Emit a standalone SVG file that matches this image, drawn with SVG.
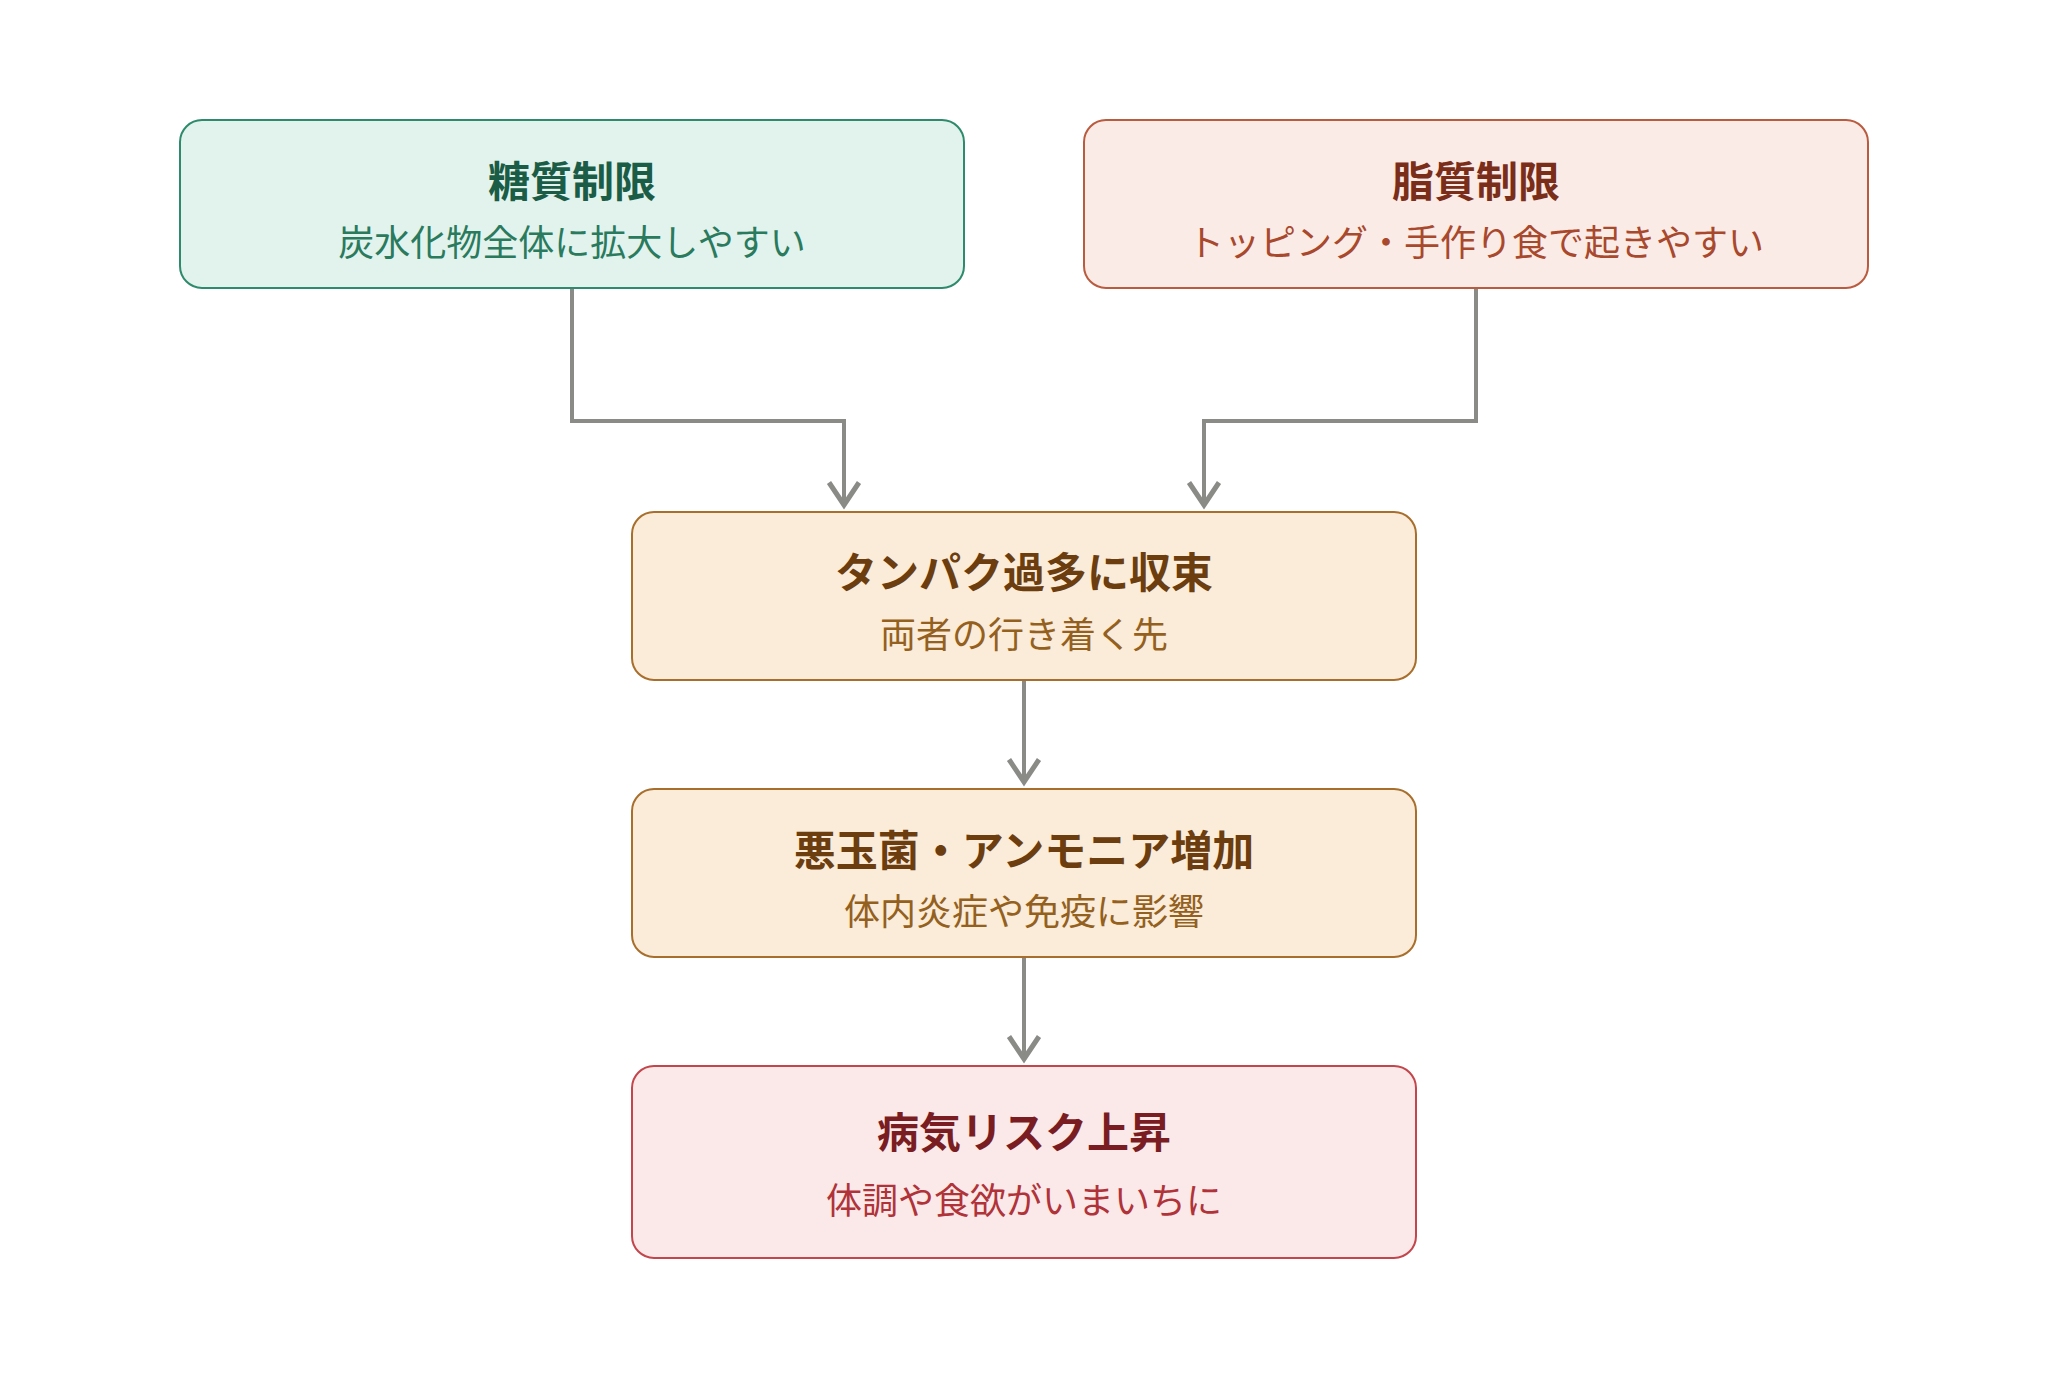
<svg xmlns="http://www.w3.org/2000/svg" width="2048" height="1385" viewBox="0 0 2048 1385">
  <style>
    .box { stroke-width: 2; }
    .title { font-family: "Noto Sans CJK JP", "Noto Sans", sans-serif; font-size: 42px; font-weight: 700; text-anchor: middle; }
    .sub { font-family: "Noto Sans CJK JP", "Noto Sans", sans-serif; font-size: 36px; font-weight: 400; text-anchor: middle; }
    .conn { fill: none; stroke: #8a8a86; stroke-width: 4; }
    .green rect { fill: #e1f3ec; stroke: #2e8a6c; }
    .green .title { fill: #1b5c46; }
    .green .sub { fill: #2a7a5e; }
    .rust rect { fill: #fbebe6; stroke: #b95b3f; }
    .rust .title { fill: #7a2d18; }
    .rust .sub { fill: #a8482c; }
    .amber rect { fill: #faecd9; stroke: #a86e2c; }
    .amber .title { fill: #6b3d0f; }
    .amber .sub { fill: #946020; }
    .red rect { fill: #fbe9e9; stroke: #c2464c; }
    .red .title { fill: #7a1d22; }
    .red .sub { fill: #b0333a; }
  </style>
  <defs>
    <marker id="chev" markerUnits="userSpaceOnUse" markerWidth="40" markerHeight="40" viewBox="-22 -16 26 32" refX="0" refY="0" orient="auto" overflow="visible">
      <path d="M-18,-12 L0,0 L-18,12" fill="none" stroke="#8a8a86" stroke-width="4" stroke-linejoin="miter"/>
    </marker>
  </defs>
  <rect width="2048" height="1385" fill="#ffffff"/>

  <g id="connectors">
    <path class="conn" d="M572 289 V421 H844 V505" marker-end="url(#chev)"/>
    <path class="conn" d="M1476 289 V421 H1204 V505" marker-end="url(#chev)"/>
    <path class="conn" d="M1024 680 V782" marker-end="url(#chev)"/>
    <path class="conn" d="M1024 957 V1059" marker-end="url(#chev)"/>
  </g>

  <g id="node-carb" class="green">
    <rect class="box" x="180" y="120" width="784" height="168" rx="22"/>
    <text class="title" x="572" y="197">糖質制限</text>
    <text class="sub" x="572" y="256">炭水化物全体に拡大しやすい</text>
  </g>

  <g id="node-fat" class="rust">
    <rect class="box" x="1084" y="120" width="784" height="168" rx="22"/>
    <text class="title" x="1476" y="197">脂質制限</text>
    <text class="sub" x="1476" y="256">トッピング・手作り食で起きやすい</text>
  </g>

  <g id="node-protein" class="amber">
    <rect class="box" x="632" y="512" width="784" height="168" rx="22"/>
    <text class="title" x="1024" y="588">タンパク過多に収束</text>
    <text class="sub" x="1024" y="648">両者の行き着く先</text>
  </g>

  <g id="node-bacteria" class="amber">
    <rect class="box" x="632" y="789" width="784" height="168" rx="22"/>
    <text class="title" x="1024" y="866">悪玉菌・アンモニア増加</text>
    <text class="sub" x="1024" y="925">体内炎症や免疫に影響</text>
  </g>

  <g id="node-risk" class="red">
    <rect class="box" x="632" y="1066" width="784" height="192" rx="22"/>
    <text class="title" x="1024" y="1148">病気リスク上昇</text>
    <text class="sub" x="1024" y="1214">体調や食欲がいまいちに</text>
  </g>
</svg>
